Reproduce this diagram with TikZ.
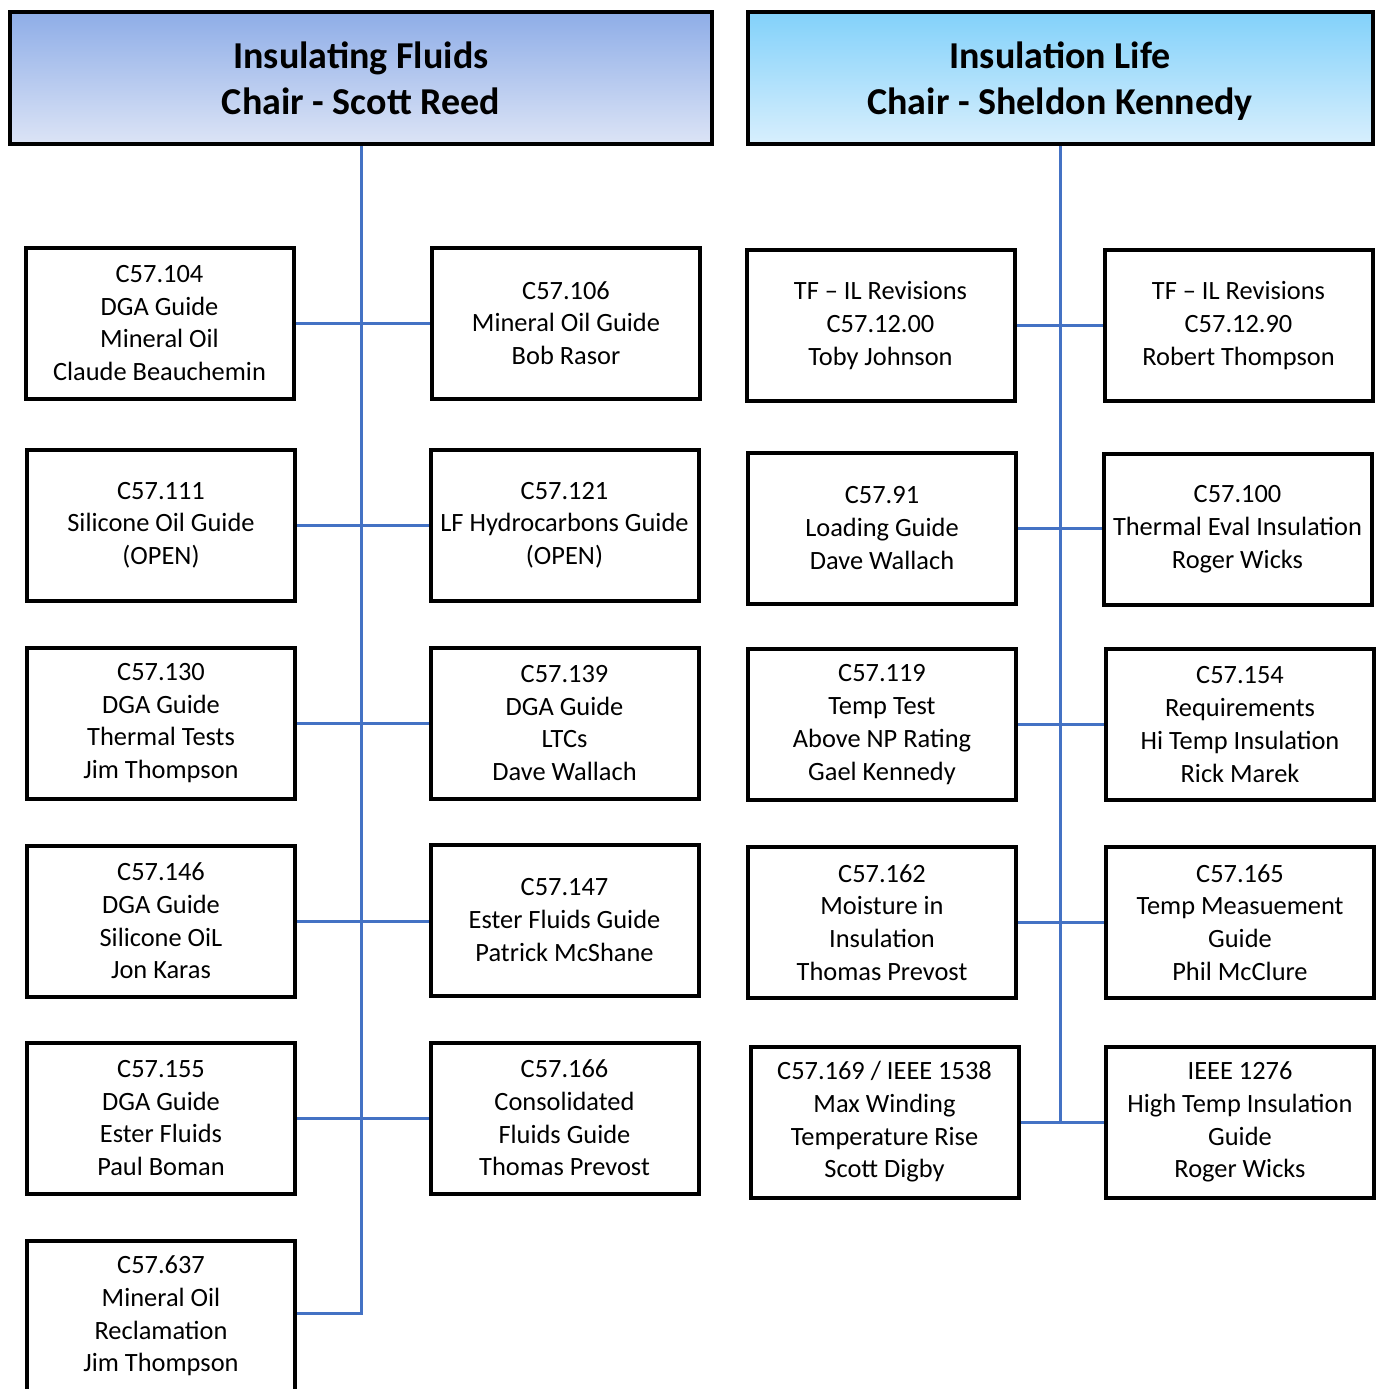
\documentclass[tikz,border=0pt]{standalone}
\usepackage{fontspec}
\setmainfont{Carlito}
\definecolor{fluidtop}{HTML}{8EADE7}
\definecolor{fluidbot}{HTML}{DCE4F6}
\definecolor{lifetop}{HTML}{82D1FA}
\definecolor{lifebot}{HTML}{D8EFFD}
\definecolor{linkblue}{HTML}{4472C4}
\begin{document}
\begin{tikzpicture}[x=0.5pt, y=-0.5pt,
    box/.style={draw, fill=white, line width=2pt, minimum width=134pt, minimum height=75.5pt,
        align=center, inner sep=0pt, font=\fontsize{13.2}{16.35}\selectfont},
    head/.style={draw, line width=2pt, minimum height=66pt, align=center, inner sep=0pt,
        font=\fontsize{19}{23}\selectfont\bfseries},
    link/.style={draw=linkblue, line width=1.5pt}]

\useasboundingbox (0,0) rectangle (1376,1389);

%% === Insulating Fluids ===
\node[head, minimum width=351pt, top color=fluidtop, bottom color=fluidbot] (fhead) at (361,78)
    {\rule{0pt}{20pt}Insulating Fluids\\Chair - Scott Reed\strut};

\node[box] (fl1) at (159.5,323) {C57.104\\DGA Guide\\Mineral Oil\\Claude Beauchemin};
\node[box] (fl2) at (161,525)   {C57.111\\Silicone Oil Guide\\(OPEN)};
\node[box] (fl3) at (161,723)   {C57.130\\DGA Guide\\Thermal Tests\\Jim Thompson};
\node[box] (fl4) at (161,921)   {C57.146\\DGA Guide\\Silicone OiL\\Jon Karas};
\node[box] (fl5) at (161,1118)  {C57.155\\DGA Guide\\Ester Fluids\\Paul Boman};
\node[box] (fl6) at (161,1316)  {C57.637\\Mineral Oil\\Reclamation\\Jim Thompson};

\node[box] (fr1) at (566,323)    {C57.106\\Mineral Oil Guide\\Bob Rasor};
\node[box] (fr2) at (564.5,525)  {C57.121\\LF Hydrocarbons Guide\\(OPEN)};
\node[box] (fr3) at (564.5,723)  {C57.139\\DGA Guide\\LTCs\\Dave Wallach};
\node[box] (fr4) at (564.5,920)  {C57.147\\Ester Fluids Guide\\Patrick McShane};
\node[box] (fr5) at (564.5,1118) {C57.166\\Consolidated\\Fluids Guide\\Thomas Prevost};

\coordinate (fend) at (361,1313);
\draw[link] (fhead.south) -- (fend) -- (fend -| fl6.east);
\foreach \n in {1,...,5}
    \draw[link] (fl\n.east) -- (fl\n.east -| fr\n.west);

%% === Insulation Life ===
\node[head, minimum width=312.5pt, top color=lifetop, bottom color=lifebot] (lhead) at (1060,78)
    {\rule{0pt}{20pt}Insulation Life\\Chair - Sheldon Kennedy\strut};

\node[box] (ll1) at (880.5,325.5) {TF -- IL Revisions\\C57.12.00\\Toby Johnson};
\node[box] (ll2) at (882,528)     {C57.91\\Loading Guide\\Dave Wallach};
\node[box] (ll3) at (882,724.5)   {C57.119\\Temp Test\\Above NP Rating\\Gael Kennedy};
\node[box] (ll4) at (882,922.5)   {C57.162\\Moisture in\\Insulation\\Thomas Prevost};
\node[box] (ll5) at (884.5,1122)  {C57.169 / IEEE 1538\\Max Winding\\Temperature Rise\\Scott Digby};

\node[box] (lr1) at (1238.5,325.5) {TF -- IL Revisions\\C57.12.90\\Robert Thompson};
\node[box] (lr2) at (1237.5,529)   {C57.100\\Thermal Eval Insulation\\Roger Wicks};
\node[box] (lr3) at (1240,724.5)   {C57.154\\Requirements\\Hi Temp Insulation\\Rick Marek};
\node[box] (lr4) at (1240,922.5)   {C57.165\\Temp Measuement\\Guide\\Phil McClure};
\node[box] (lr5) at (1240,1122)    {IEEE 1276\\High Temp Insulation\\Guide\\Roger Wicks};

\coordinate (lend) at (lhead.south |- ll5.east);
\draw[link] (lhead.south) -- (lend);
\foreach \n in {1,...,5}
    \draw[link] (ll\n.east) -- (ll\n.east -| lr\n.west);

\end{tikzpicture}
\end{document}
